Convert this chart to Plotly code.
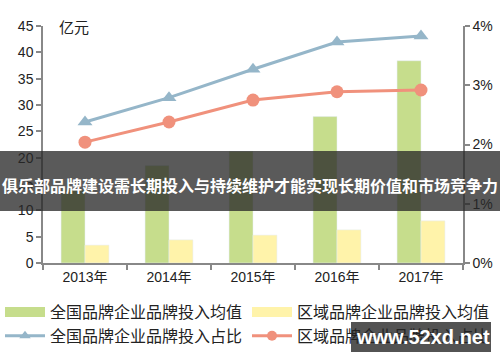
import plotly.graph_objects as go

years = ["2013年", "2014年", "2015年", "2016年", "2017年"]
national_avg = [13.9, 18.5, 21.2, 27.8, 38.4]
regional_avg = [3.4, 4.4, 5.3, 6.3, 8.0]
national_ratio = [2.38, 2.79, 3.27, 3.73, 3.83]
regional_ratio = [2.04, 2.38, 2.75, 2.89, 2.92]

left_ticks = [0, 5, 10, 15, 20, 25, 30, 35, 40, 45]
right_ticks = [0, 1, 2, 3, 4]
right_tick_labels = ["0%", "1%", "2%", "3%", "4%"]

name_nat_avg = "全国品牌企业品牌投入均值"
name_reg_avg = "区域品牌企业品牌投入均值"
name_nat_ratio = "全国品牌企业品牌投入占比"
name_reg_ratio = "区域品牌企业品牌投入占比"
banner_text = "俱乐部品牌建设需长期投入与持续维护才能实现长期价值和市场竞争力"

GREEN = "#c6dd8c"
YELLOW = "#fff3aa"
BLUE = "#95b6c9"
SALMON = "#f0917c"
AXIS = "#888888"
FONT = "Liberation Sans, Arial, Noto Sans CJK SC, sans-serif"
CJK = "Noto Sans CJK SC, sans-serif"

fig = go.Figure()
fig.add_trace(go.Bar(x=years, y=national_avg, marker_color=GREEN, showlegend=False, name=name_nat_avg))
fig.add_trace(go.Bar(x=years, y=regional_avg, marker_color=YELLOW, showlegend=False, name=name_reg_avg))
fig.add_trace(go.Scatter(x=years, y=national_ratio, yaxis="y2", mode="lines+markers",
                         line=dict(color=BLUE, width=3),
                         marker=dict(symbol="triangle-up", size=13, color=BLUE),
                         showlegend=False, name=name_nat_ratio))
fig.add_trace(go.Scatter(x=years, y=regional_ratio, yaxis="y2", mode="lines+markers",
                         line=dict(color=SALMON, width=3),
                         marker=dict(symbol="circle", size=13, color=SALMON),
                         showlegend=False, name=name_reg_ratio))

# legend entries (two columns -> two legends)
fig.add_trace(go.Scatter(x=[None], y=[None], mode="lines", line=dict(color=GREEN, width=10),
                         name=name_nat_avg, legend="legend"))
fig.add_trace(go.Scatter(x=[None], y=[None], mode="lines+markers", line=dict(color=BLUE, width=3),
                         marker=dict(symbol="triangle-up", size=10, color=BLUE),
                         name=name_nat_ratio, legend="legend"))
fig.add_trace(go.Scatter(x=[None], y=[None], mode="lines", line=dict(color=YELLOW, width=10),
                         name=name_reg_avg, legend="legend2"))
fig.add_trace(go.Scatter(x=[None], y=[None], mode="lines+markers", line=dict(color=SALMON, width=3),
                         marker=dict(symbol="circle", size=10, color=SALMON),
                         name=name_reg_ratio, legend="legend2"))

L, R, T, B = 43, 37, 26, 99
W, H = 500, 362
pw, ph = W - L - R, H - T - B

def px(x):
    return (x - L) / pw

def py(y):
    return (H - B - y) / ph

legend_common = dict(orientation="v", xanchor="left", yanchor="top",
                     font=dict(family=CJK, size=16, color="#222"), itemwidth=40,
                     tracegroupgap=0, bgcolor="rgba(0,0,0,0)", traceorder="normal")

fig.update_layout(
    width=W, height=H,
    margin=dict(l=L, r=R, t=T, b=B, pad=0, autoexpand=False),
    paper_bgcolor="white", plot_bgcolor="white",
    barmode="group", bargap=0.43, bargroupgap=0,
    font=dict(family=FONT, size=14, color="#222"),
    xaxis=dict(type="category", showgrid=False, showline=True, linecolor=AXIS, linewidth=1.5,
               ticks="outside", tickson="boundaries", ticklen=5, tickcolor=AXIS, tickwidth=1.5,
               tickfont=dict(size=14, color="#222", family=FONT), automargin=False,
               range=[-0.5, 4.5]),
    yaxis=dict(range=[0, 45], tickvals=left_ticks, showgrid=False, zeroline=False,
               showline=True, linecolor=AXIS, linewidth=1.5, ticks="outside", ticklen=5,
               tickcolor=AXIS, tickwidth=1.5, tickfont=dict(size=14, color="#222"),
               automargin=False),
    yaxis2=dict(range=[0, 4], tickvals=right_ticks, ticktext=right_tick_labels,
                overlaying="y", side="right",
                showgrid=False, zeroline=False, showline=True, linecolor=AXIS, linewidth=1.5,
                ticks="outside", ticklen=5, tickcolor=AXIS, tickwidth=1.5,
                tickfont=dict(size=14, color="#222"), automargin=False),
    legend=dict(x=px(0), y=py(295), **legend_common),
    legend2=dict(x=px(247), y=py(295), **legend_common),
    shapes=[
        dict(type="rect", xref="paper", yref="paper", x0=px(0), x1=px(W), y0=py(211), y1=py(151),
             fillcolor="rgba(40,40,40,0.77)", line=dict(width=0), layer="above"),
        dict(type="rect", xref="paper", yref="paper", x0=px(351), x1=px(491), y0=py(352), y1=py(322),
             fillcolor="rgba(72,72,72,0.94)", line=dict(width=0), layer="above"),
    ],
    annotations=[
        dict(text="亿元", xref="paper", yref="paper", x=px(57), y=py(26), xanchor="left", yanchor="middle",
             showarrow=False, font=dict(family=CJK, size=15, color="#222")),
        dict(text="<b>" + banner_text + "</b>", xref="paper", yref="paper", x=px(250), y=py(185),
             xanchor="center", yanchor="middle", showarrow=False,
             font=dict(family=CJK, size=16, color="white")),
        dict(text="<b>www.52xd.net</b>", xref="paper", yref="paper", x=px(423), y=py(337),
             xanchor="center", yanchor="middle", showarrow=False,
             font=dict(family="Liberation Sans, Arial, sans-serif", size=20, color="white")),
    ],
)

fig.write_html("out.html", config={"displayModeBar": False},
               post_script="document.body.style.margin='0px';")
